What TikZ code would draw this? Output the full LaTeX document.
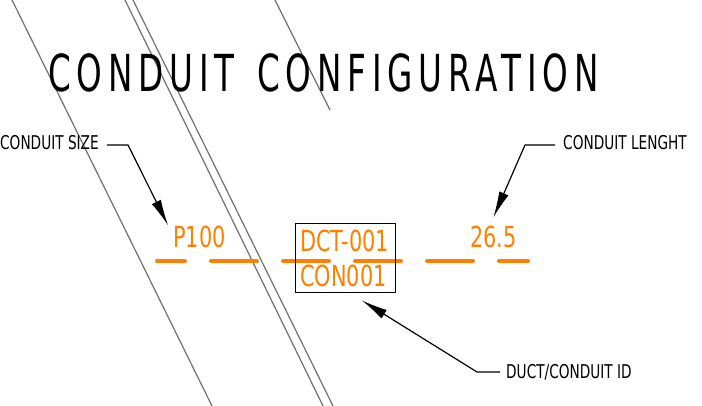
\documentclass[tikz,border=0pt]{standalone}
\usepackage{fontspec}
\usetikzlibrary{arrows.meta}
\newfontfamily\cadfont[FakeStretch=0.72]{DejaVu Sans}
\newfontfamily\cadtitlefont[FakeStretch=0.64, LetterSpace=11.5]{DejaVu Sans}
\definecolor{ductorange}{RGB}{255,128,0}
\definecolor{ductgray}{RGB}{112,112,112}
\tikzset{
  cadtext/.style={inner sep=0pt, anchor=base west},
  calloutlbl/.style={cadtext, font=\cadfont\fontsize{19}{19}\selectfont},
  ducttag/.style={cadtext, text=ductorange, font=\cadfont\fontsize{29}{29}\selectfont},
  leader/.style={line width=1.2pt, -{Latex[length=26pt,width=10pt]}},
  edgeline/.style={ductgray, line width=1.2pt}
}
\begin{document}
\begin{tikzpicture}[x=1pt, y=-1pt]
      \useasboundingbox (0,0) rectangle (702,406);
      % background edges
      \draw[edgeline] (12,0) -- (212,406);
      \draw[edgeline] (125,0) -- (323,406);
      \draw[edgeline] (133,0) -- (333,406);
      \draw[edgeline] (275,0) -- (330,110);
      % conduit run
      \draw[ductorange, line width=4pt, line cap=round,
            dash pattern=on 46pt off 26pt, dash phase=18pt] (157,261) -- (528,261);
      \draw
        (48,92) node[cadtext, font=\cadtitlefont\fontsize{51}{51}\selectfont] (title){CONDUIT\hspace{6pt} CONFIGURATION}
        (0,150) node[calloutlbl] (sizelbl){CONDUIT SIZE}
        (563,150) node[calloutlbl] (lenlbl){CONDUIT LENGHT}
        (506,378) node[calloutlbl] (idlbl){DUCT/CONDUIT ID}
        (173,248) node[ducttag] (size){P100}
        (470,248) node[ducttag] (len){26.5}
        (300,252) node[ducttag] (dct){DCT-001}
        (300,287) node[ducttag] (con){CON001};
      \node[draw, line width=1pt, minimum width=100pt, minimum height=69pt,
            inner sep=0pt] (idbox) at (345,258.5) {};
      \coordinate (sizeknee) at (128,145);
      \coordinate (lenknee) at (525,145);
      \coordinate (idknee) at (477,372);
      \begin{scope}[leader]
        \draw ([xshift=8pt,yshift=5pt]sizelbl.base east) -- (sizeknee) -- ([xshift=-5pt,yshift=1pt]size.north west);
        \draw ([xshift=-8pt,yshift=5pt]lenlbl.base west) -- (lenknee) -- ([yshift=9pt]len.north);
        \draw ([xshift=-6pt,yshift=6pt]idlbl.base west) -- (idknee) -- ([xshift=17pt,yshift=-7pt]idbox.south);
      \end{scope}
    \end{tikzpicture}
\end{document}
